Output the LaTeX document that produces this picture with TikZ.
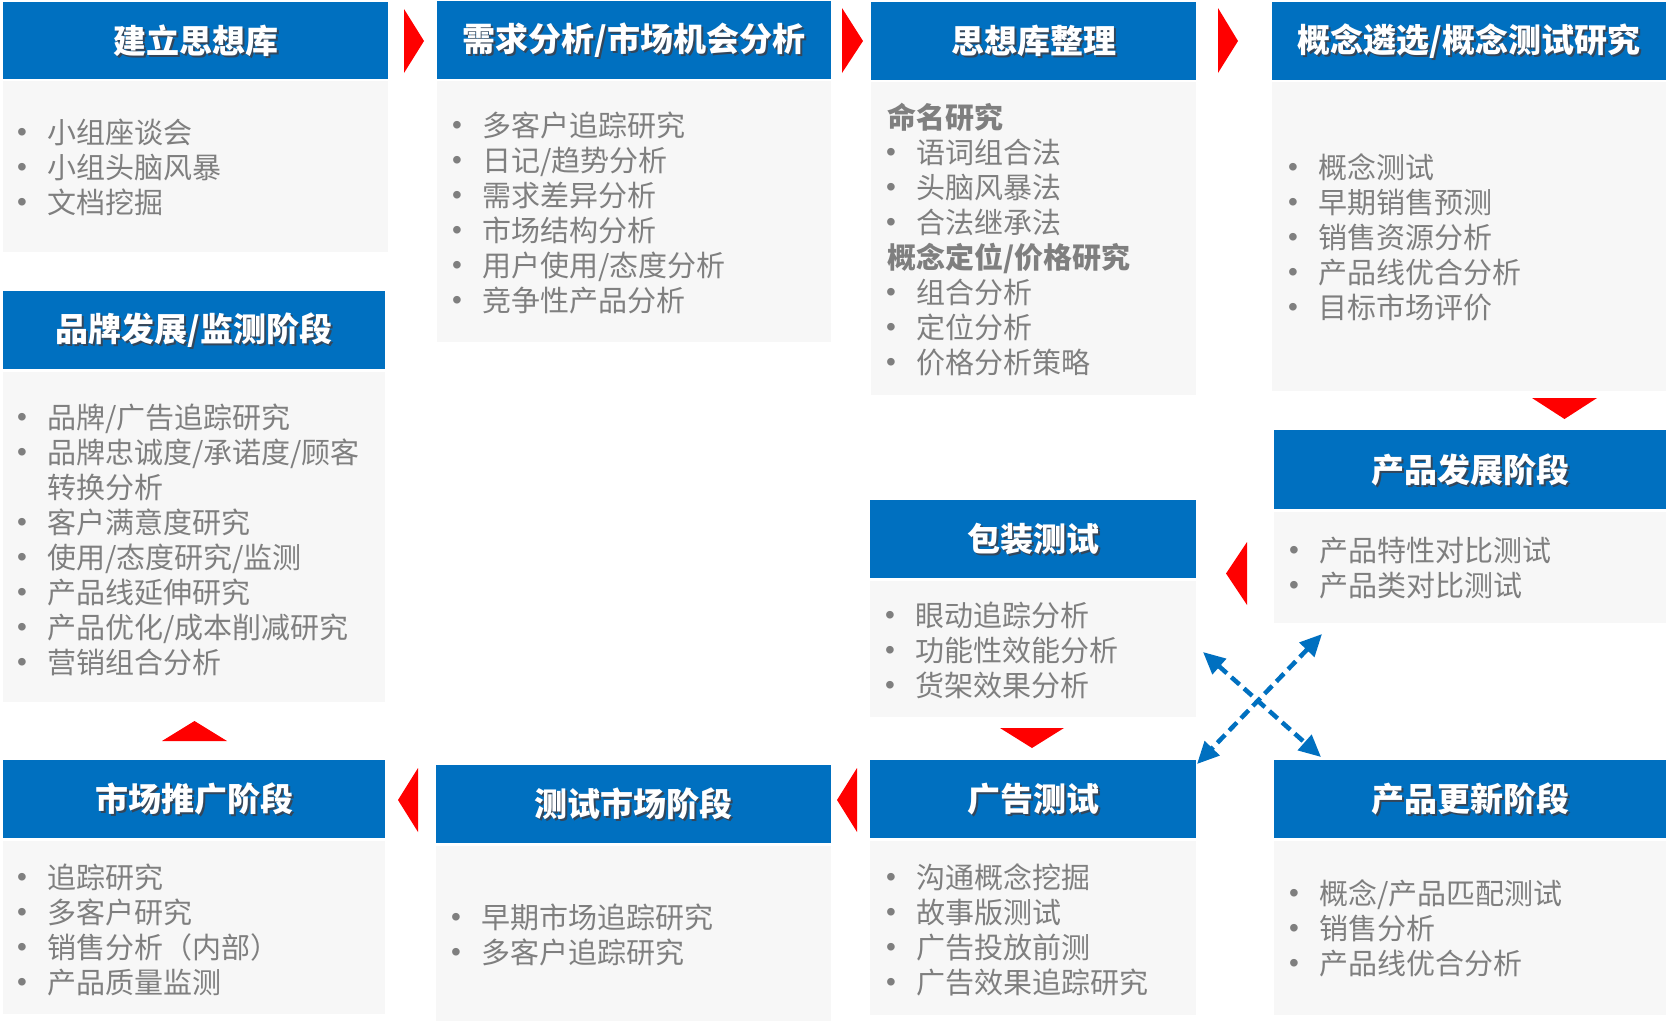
\documentclass[tikz,border=0pt]{standalone}
\usepackage{fontspec}
\setmainfont{Noto Sans CJK SC}
\newfontfamily\bulfamily{Liberation Sans}
\usetikzlibrary{arrows.meta}
\definecolor{hdrblue}{HTML}{0070C0}
\definecolor{bodybg}{HTML}{F7F7F7}
\definecolor{txtgray}{HTML}{7F7F7F}
\definecolor{arrred}{HTML}{FF0000}
\definecolor{shgray}{HTML}{34465A}
\newcommand\hshadow[1]{\makebox[0pt][l]{\kern2pt\raisebox{-2pt}[0pt][0pt]{\color{shgray}#1}}#1}
\newcommand\bul{\makebox[29pt][l]{\kern-1pt\raisebox{1.5pt}{\bulfamily\fontsize{28}{28}\selectfont •}}}
\newcommand\blist[1]{\begin{minipage}[t]{480pt}\fontsize{29}{35}\selectfont\raggedright #1\end{minipage}}
\newcommand\bhead[1]{{\bfseries #1}}
\begin{document}
\begin{tikzpicture}[x=1pt, y=-1pt,
  hdr/.style={fill=hdrblue, text=white, inner sep=0pt, anchor=north west,
    font=\fontsize{33}{33}\selectfont\bfseries},
  bodybox/.style={fill=bodybg, inner sep=0pt, anchor=north west},
  lst/.style={anchor=base west, inner sep=0pt, text=txtgray},
  redtri/.style={fill=arrred},
  dblarrow/.style={draw=hdrblue, line width=4.5pt, dash pattern=on 11pt off 6pt,
    {Triangle[length=22pt,width=20pt]}-{Triangle[length=22pt,width=20pt]}}]
\useasboundingbox (0,0) rectangle (1667,1021);
\fill[white] (0,0) rectangle (1667,1021);

% headers
\node[hdr, minimum width=385pt, minimum height=77pt] (h1) at (3,2) {\hshadow{建立思想库}};
\node[hdr, minimum width=394pt, minimum height=78pt] (h2) at (437,1) {\hshadow{需求分析/市场机会分析}};
\node[hdr, minimum width=325pt, minimum height=78pt] (h3) at (871,2) {\hshadow{思想库整理}};
\node[hdr, minimum width=394pt, minimum height=78pt] (h4) at (1272,2) {\hshadow{概念遴选/概念测试研究}};
\node[hdr, minimum width=382pt, minimum height=78pt] (h5) at (3,291) {\hshadow{品牌发展/监测阶段}};
\node[hdr, minimum width=392pt, minimum height=79pt] (h6) at (1274,430) {\hshadow{产品发展阶段}};
\node[hdr, minimum width=326pt, minimum height=78pt] (h7) at (870,500) {\hshadow{包装测试}};
\node[hdr, minimum width=382pt, minimum height=78pt] (h8) at (3,760) {\hshadow{市场推广阶段}};
\node[hdr, minimum width=395pt, minimum height=78pt] (h9) at (436,765) {\hshadow{测试市场阶段}};
\node[hdr, minimum width=326pt, minimum height=78pt] (h10) at (870,760) {\hshadow{广告测试}};
\node[hdr, minimum width=392pt, minimum height=78pt] (h11) at (1274,760) {\hshadow{产品更新阶段}};

% bodies
\node[bodybox, minimum width=385pt, minimum height=171pt] (b1) at (3,81) {};
\node[bodybox, minimum width=394pt, minimum height=261pt] (b2) at (437,81) {};
\node[bodybox, minimum width=325pt, minimum height=313pt] (b3) at (871,82) {};
\node[bodybox, minimum width=394pt, minimum height=309pt] (b4) at (1272,82) {};
\node[bodybox, minimum width=382pt, minimum height=330pt] (b5) at (3,372) {};
\node[bodybox, minimum width=392pt, minimum height=111pt] (b6) at (1274,512) {};
\node[bodybox, minimum width=326pt, minimum height=136pt] (b7) at (870,581) {};
\node[bodybox, minimum width=382pt, minimum height=173pt] (b8) at (3,841) {};
\node[bodybox, minimum width=395pt, minimum height=175pt] (b9) at (436,846) {};
\node[bodybox, minimum width=326pt, minimum height=174pt] (b10) at (870,841) {};
\node[bodybox, minimum width=392pt, minimum height=174pt] (b11) at (1274,841) {};

% lists
\node[lst] (l1) at (18,143) {\blist{\bul 小组座谈会\\ \bul 小组头脑风暴\\ \bul 文档挖掘}};
\node[lst] (l2) at (453,136) {\blist{\bul 多客户追踪研究\\ \bul 日记/趋势分析\\ \bul 需求差异分析\\ \bul 市场结构分析\\ \bul 用户使用/态度分析\\ \bul 竞争性产品分析}};
\node[lst] (l3) at (887,128) {\blist{\bhead{命名研究}\\ \bul 语词组合法\\ \bul 头脑风暴法\\ \bul 合法继承法\\ \bhead{概念定位/价格研究}\\ \bul 组合分析\\ \bul 定位分析\\ \bul 价格分析策略}};
\node[lst] (l4) at (1289,178) {\blist{\bul 概念测试\\ \bul 早期销售预测\\ \bul 销售资源分析\\ \bul 产品线优合分析\\ \bul 目标市场评价}};
\node[lst] (l5) at (18,428) {\blist{\bul 品牌/广告追踪研究\\ \bul 品牌忠诚度/承诺度/顾客\\ \hspace*{29pt}转换分析\\ \bul 客户满意度研究\\ \bul 使用/态度研究/监测\\ \bul 产品线延伸研究\\ \bul 产品优化/成本削减研究\\ \bul 营销组合分析}};
\node[lst] (l6) at (1290,561) {\blist{\bul 产品特性对比测试\\ \bul 产品类对比测试}};
\node[lst] (l7) at (886,626) {\blist{\bul 眼动追踪分析\\ \bul 功能性效能分析\\ \bul 货架效果分析}};
\node[lst] (l8) at (18,888) {\blist{\bul 追踪研究\\ \bul 多客户研究\\ \bul 销售分析（内部）\\ \bul 产品质量监测}};
\node[lst] (l9) at (452,928) {\blist{\bul 早期市场追踪研究\\ \bul 多客户追踪研究}};
\node[lst] (l10) at (887,888) {\blist{\bul 沟通概念挖掘\\ \bul 故事版测试\\ \bul 广告投放前测\\ \bul 广告效果追踪研究}};
\node[lst] (l11) at (1290,904) {\blist{\bul 概念/产品匹配测试\\ \bul 销售分析\\ \bul 产品线优合分析}};

% red arrows
\fill[redtri] (404,9) -- (424,41) -- (404,73) -- cycle;
\fill[redtri] (842,8) -- (863,41) -- (842,73) -- cycle;
\fill[redtri] (1218,8) -- (1238,41) -- (1218,73) -- cycle;
\fill[redtri] (1532,398) -- (1597,398) -- (1564.5,419) -- cycle;
\fill[redtri] (1247,542) -- (1247,605) -- (1226,573.5) -- cycle;
\fill[redtri] (1000,728) -- (1064,728) -- (1032,748) -- cycle;
\fill[redtri] (857,768) -- (857,832) -- (837,800) -- cycle;
\fill[redtri] (418,768) -- (418,832) -- (398,800) -- cycle;
\fill[redtri] (162,741) -- (227,741) -- (194.5,721) -- cycle;

% blue dashed double arrows
\coordinate (xa1) at (1203,652);
\coordinate (xa2) at (1321,757);
\coordinate (xb1) at (1322,634);
\coordinate (xb2) at (1197,764);
\draw[dblarrow] (xa1) -- (xa2);
\draw[dblarrow] (xb1) -- (xb2);
\end{tikzpicture}
\end{document}
